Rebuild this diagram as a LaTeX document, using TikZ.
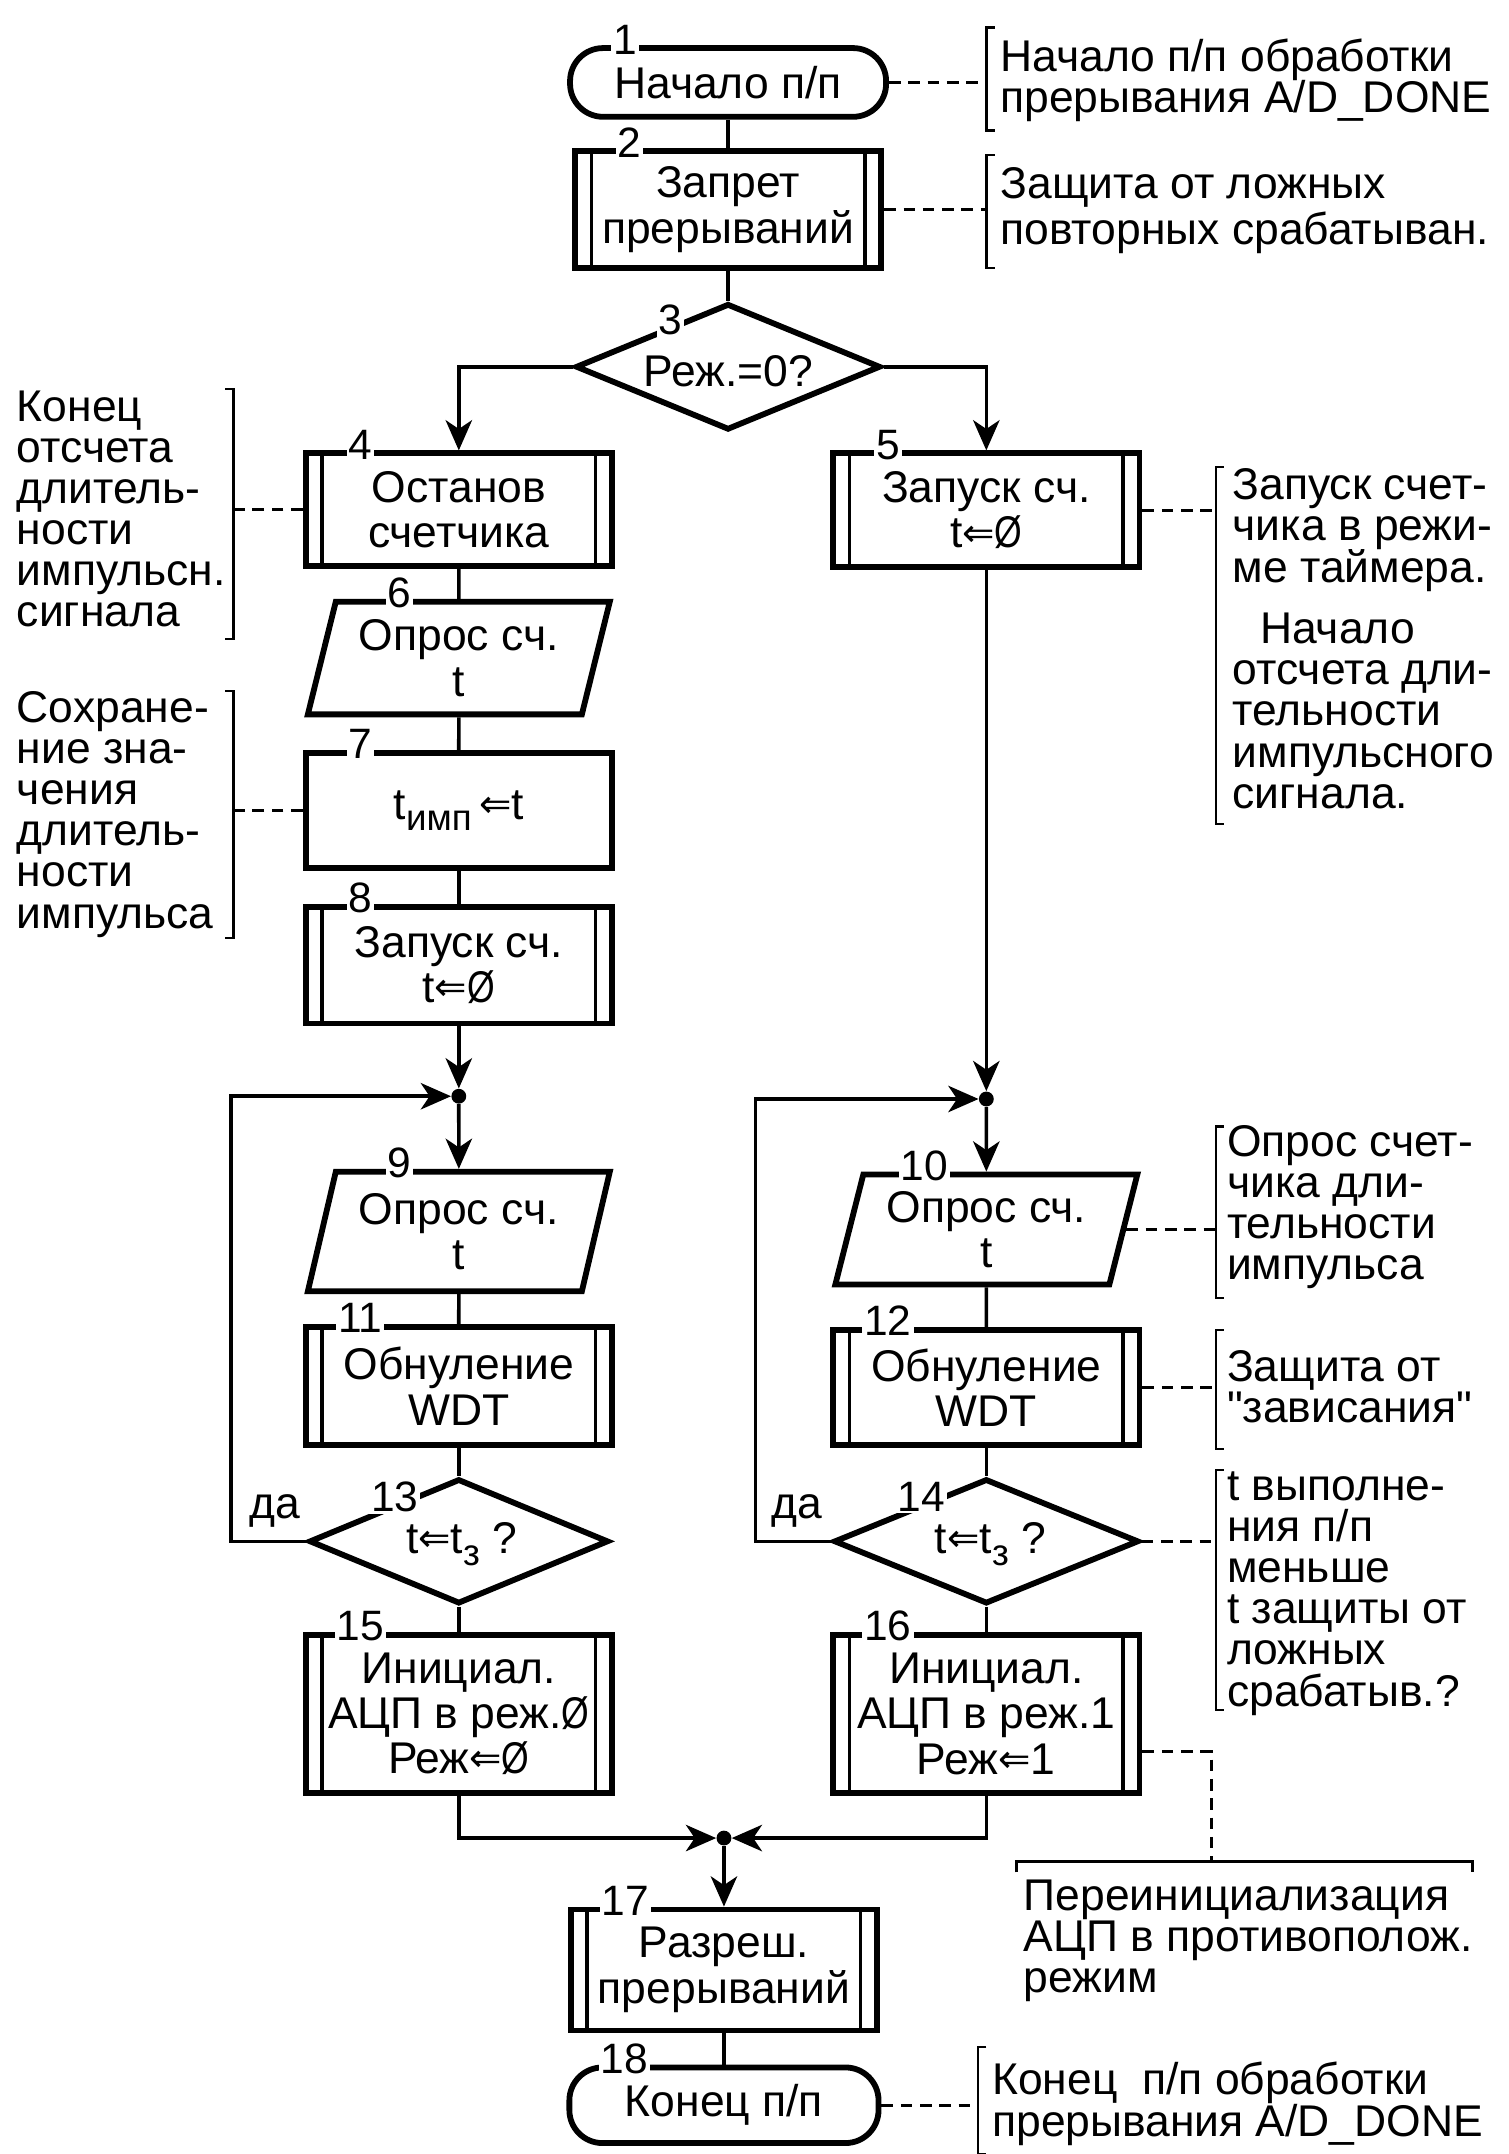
\documentclass[tikz,border=0pt]{standalone}
\usepackage{fontspec}
\setmainfont{Liberation Sans}
\newfontfamily\djv{DejaVu Sans}
\usepackage{graphicx}
\usetikzlibrary{shapes.geometric,arrows.meta,calc}
\newcommand\larr{{\djv\fontsize{20}{20}\selectfont\raisebox{1pt}{⇐}}}
\newcommand\szero{\scalebox{0.8}[1]{Ø}}
\newcommand\lowsub[1]{\raisebox{-6pt}{\fontsize{19}{19}\selectfont #1}}
\begin{document}
\begin{tikzpicture}[x=0.025cm, y=-0.025cm,
 txt/.style={font={\fontsize{23}{23.5}\selectfont\lineskiplimit=-30pt}},
 shp/.style={draw, line width=3pt, align=center, txt, inner sep=1pt},
 proc/.style={shp, rectangle, minimum width=5.575cm},
 pproc/.style={proc, path picture={
   \draw[line width=1.8pt] ([xshift=0.3cm]path picture bounding box.north west) -- ([xshift=0.3cm]path picture bounding box.south west);
   \draw[line width=1.8pt] ([xshift=-0.3cm]path picture bounding box.north east) -- ([xshift=-0.3cm]path picture bounding box.south east);}},
 term/.style={shp, rectangle, rounded corners=0.6cm},
 io/.style={shp, trapezium, trapezium left angle=74, trapezium right angle=106, trapezium stretches=true, minimum width=5.5cm},
 dec/.style={shp, diamond, inner sep=0pt},
 num/.style={fill=white, inner sep=1pt, font={\fontsize{22}{22}\selectfont}},
 flow/.style={line width=1.9pt},
 arw/.style={flow, -{Stealth[length=0.55cm, width=0.48cm, inset=0.16cm]}},
 note/.style={align=left, inner sep=0pt, anchor=north west, font={\fontsize{23}{21.3}\selectfont\lineskiplimit=-30pt}},
 brk/.style={line width=1.2pt},
 annot/.style={line width=1.5pt, dash pattern=on 6pt off 4pt},
 jn/.style={circle, fill, inner sep=0pt, minimum size=0.27cm}
]
\useasboundingbox (0,0) rectangle (1098,1568);

% ---- nodes
\node[term, minimum width=5.75cm, minimum height=1.25cm] (n1) at (530,60) {Начало п/п};
\node[pproc, minimum height=2.125cm] (n2) at (530,152.5) {Запрет\\прерываний};
\node[dec, minimum width=5.55cm, minimum height=2.3cm] (n3) at (530,267) {};
\node[txt] (t3) at (530,270) {Реж.=0?};
\node[pproc, minimum height=2.05cm] (n4) at (334,371) {Останов\\счетчика};
\node[pproc, minimum height=2.075cm] (n5) at (718,371.5) {Запуск сч.\\t\larr\szero};
\node[io, minimum height=2.05cm] (n6) at (334,479) {Опрос сч.\\t};
\node[proc, minimum height=2.1cm] (n7) at (334,590) {t\lowsub{имп}\,\larr t};
\node[pproc, minimum height=2.125cm] (n8) at (334,702.5) {Запуск сч.\\t\larr\szero};
\node[jn] (j1) at (334,798) {};
\node[io, minimum height=2.175cm] (n9) at (334,896.5) {Опрос сч.\\t};
\node[pproc, minimum height=2.15cm] (n11) at (334,1009) {Обнуление\\WDT};
\node[dec, minimum width=5.45cm, minimum height=2.275cm] (n13) at (334,1122) {};
\node[txt] (t13) at (336,1124) {t\larr t\lowsub{з} ?};
\node[pproc, minimum height=2.875cm] (n15) at (334,1247.5) {Инициал.\\АЦП в реж.\szero\\Реж\larr\szero};
\node[jn] (j2) at (718,800) {};
\node[io, minimum height=2cm] (n10) at (718,895) {Опрос сч.\\t};
\node[pproc, minimum height=2.1cm] (n12) at (718,1010) {Обнуление\\WDT};
\node[dec, minimum width=5.55cm, minimum height=2.275cm] (n14) at (718,1122) {};
\node[txt] (t14) at (721,1124) {t\larr t\lowsub{з} ?};
\node[pproc, minimum height=2.875cm] (n16) at (718,1247.5) {Инициал.\\АЦП в реж.1\\Реж\larr 1};
\node[jn] (j3) at (527,1338) {};
\node[pproc, minimum height=2.2cm] (n17) at (527,1434) {Разреш.\\прерываний};
\node[term, minimum width=5.625cm, minimum height=1.375cm] (n18) at (527,1532.5) {Конец п/п};

% ---- numbers
\node[num] at ([xshift=1.05cm,yshift=3pt]n1.north west) {1};
\node[num] at ([xshift=1.05cm,yshift=3pt]n2.north west) {2};
\node[num] at ($(n3.north)!0.37!(n3.west)+(0,-4)$) {3};
\node[num] at ([xshift=1.05cm,yshift=3pt]n4.north west) {4};
\node[num] at ([xshift=1.05cm,yshift=3pt]n5.north west) {5};
\node[num] at ([xshift=1.2cm,yshift=3pt]n6.top left corner) {6};
\node[num] at ([xshift=1.05cm,yshift=3pt]n7.north west) {7};
\node[num] at ([xshift=1.05cm,yshift=3pt]n8.north west) {8};
\node[num] at ([xshift=1.2cm,yshift=3pt]n9.top left corner) {9};
\node[num] at ([xshift=1.15cm,yshift=3pt]n10.top left corner) {10};
\node[num] at ([xshift=1.05cm,yshift=3pt]n11.north west) {11};
\node[num] at ([xshift=1.05cm,yshift=3pt]n12.north west) {12};
\node[num] at ($(n13.north)!0.42!(n13.west)+(0,-5)$) {13};
\node[num] at ($(n14.north)!0.42!(n14.west)+(0,-5)$) {14};
\node[num] at ([xshift=1.05cm,yshift=3pt]n15.north west) {15};
\node[num] at ([xshift=1.05cm,yshift=3pt]n16.north west) {16};
\node[num] at ([xshift=1.05cm,yshift=3pt]n17.north west) {17};
\node[num] at ([xshift=1.05cm,yshift=3pt]n18.north west) {18};

% ---- flow connectors
\draw[flow] (n1) -- (n2);
\draw[flow] (n2) -- (n3);
\draw[arw] (n3.west) -| (n4.north);
\draw[arw] (n3.east) -| (n5.north);
\draw[flow] (n4) -- (n6);
\draw[flow] (n6) -- (n7);
\draw[flow] (n7) -- (n8);
\draw[arw] (n8) -- (j1);
\draw[arw] (j1) -- (n9);
\draw[flow] (n9) -- (n11);
\draw[flow] (n11) -- (n13);
\draw[flow] (n13) -- (n15);
\coordinate (lpL) at (168,798);
\draw[arw] (n13.west) -- (n13.west -| lpL) |- (j1);
\draw[arw] (n5) -- (j2);
\draw[arw] (j2) -- (n10);
\draw[flow] (n10) -- (n12);
\draw[flow] (n12) -- (n14);
\draw[flow] (n14) -- (n16);
\coordinate (lpR) at (550,800);
\draw[arw] (n14.west) -- (n14.west -| lpR) |- (j2);
\draw[arw] (n15.south) |- (j3);
\draw[arw] (n16.south) |- (j3);
\draw[arw] (j3) -- (n17);
\draw[flow] (n17) -- (n18);

\node[txt] (da1) at (200,1100) {да};
\node[txt] (da2) at (580,1100) {да};

% ---- annotations
\node[note] (a1) at (728,28) {Начало п/п обработки\\прерывания A/D\_DONE};
\node[note, font={\fontsize{23}{23.5}\selectfont\lineskiplimit=-30pt}] (a2) at (728,122) {Защита от ложных\\повторных срабатыван.};
\node[note] (a4) at (12,284) {Конец\\отсчета\\длитель-\\ности\\импульсн.\\сигнала};
\node[note] (a7) at (12,503) {Сохране-\\ние зна-\\чения\\длитель-\\ности\\импульса};
\node[note] (a5) at (897,341) {Запуск счет-\\чика в режи-\\ме таймера.};
\node[note] (a5b) at (897,446) {\hspace*{0.5cm}Начало\\отсчета дли-\\тельности\\импульсного\\сигнала.};
\node[note] (a10) at (893,819) {Опрос счет-\\чика дли-\\тельности\\импульса};
\node[note] (a12) at (893,983) {Защита от\\\textquotedbl зависания\textquotedbl};
\node[note] (a14) at (893,1071) {t выполне-\\ния п/п\\меньше\\t защиты от\\ложных\\срабатыв.?};
\node[note] (a16) at (745,1368) {Переинициализация\\АЦП в противополож.\\режим};
\node[note] (a18) at (722,1501) {Конец\ \ п/п обработки\\прерывания A/D\_DONE};

\coordinate (c1) at (718,60);
\draw[annot] (n1.east) -- (n1.east -| c1);
\draw[brk] (724,20) -- (718,20) -- (718,95) -- (724,95);
\coordinate (c2) at (718,155);
\draw[annot] (n2.east) -- (n2.east -| c2);
\draw[brk] (724,113) -- (718,113) -- (718,195) -- (724,195);
\coordinate (c4) at (170,375);
\draw[annot] (n4.west) -- (n4.west -| c4);
\draw[brk] (164,283) -- (170,283) -- (170,465) -- (164,465);
\coordinate (c7) at (170,590);
\draw[annot] (n7.west) -- (n7.west -| c7);
\draw[brk] (164,503) -- (170,503) -- (170,683) -- (164,683);
\coordinate (c5) at (885,371);
\draw[annot] (n5.east) -- (n5.east -| c5);
\draw[brk] (891,340) -- (885,340) -- (885,600) -- (891,600);
\coordinate (c10) at (885,900);
\draw[annot] (n10.east) -- (n10.east -| c10);
\draw[brk] (891,820) -- (885,820) -- (885,945) -- (891,945);
\coordinate (c12) at (885,1012);
\draw[annot] (n12.east) -- (n12.east -| c12);
\draw[brk] (891,968) -- (885,968) -- (885,1055) -- (891,1055);
\coordinate (c14) at (885,1122);
\draw[annot] (n14.east) -- (n14.east -| c14);
\draw[brk] (891,1070) -- (885,1070) -- (885,1245) -- (891,1245);
\coordinate (c16a) at (882,1275);
\coordinate (c16) at (882,1355);
\draw[annot] (n16.east |- c16a) -- (c16a) -- (c16);
\draw[brk] (740,1363) -- (740,1355) -- (1072,1355) -- (1072,1363);
\coordinate (c18) at (712,1532);
\draw[annot] (n18.east) -- (n18.east -| c18);
\draw[brk] (718,1490) -- (712,1490) -- (712,1568) -- (718,1568);
\end{tikzpicture}
\end{document}
